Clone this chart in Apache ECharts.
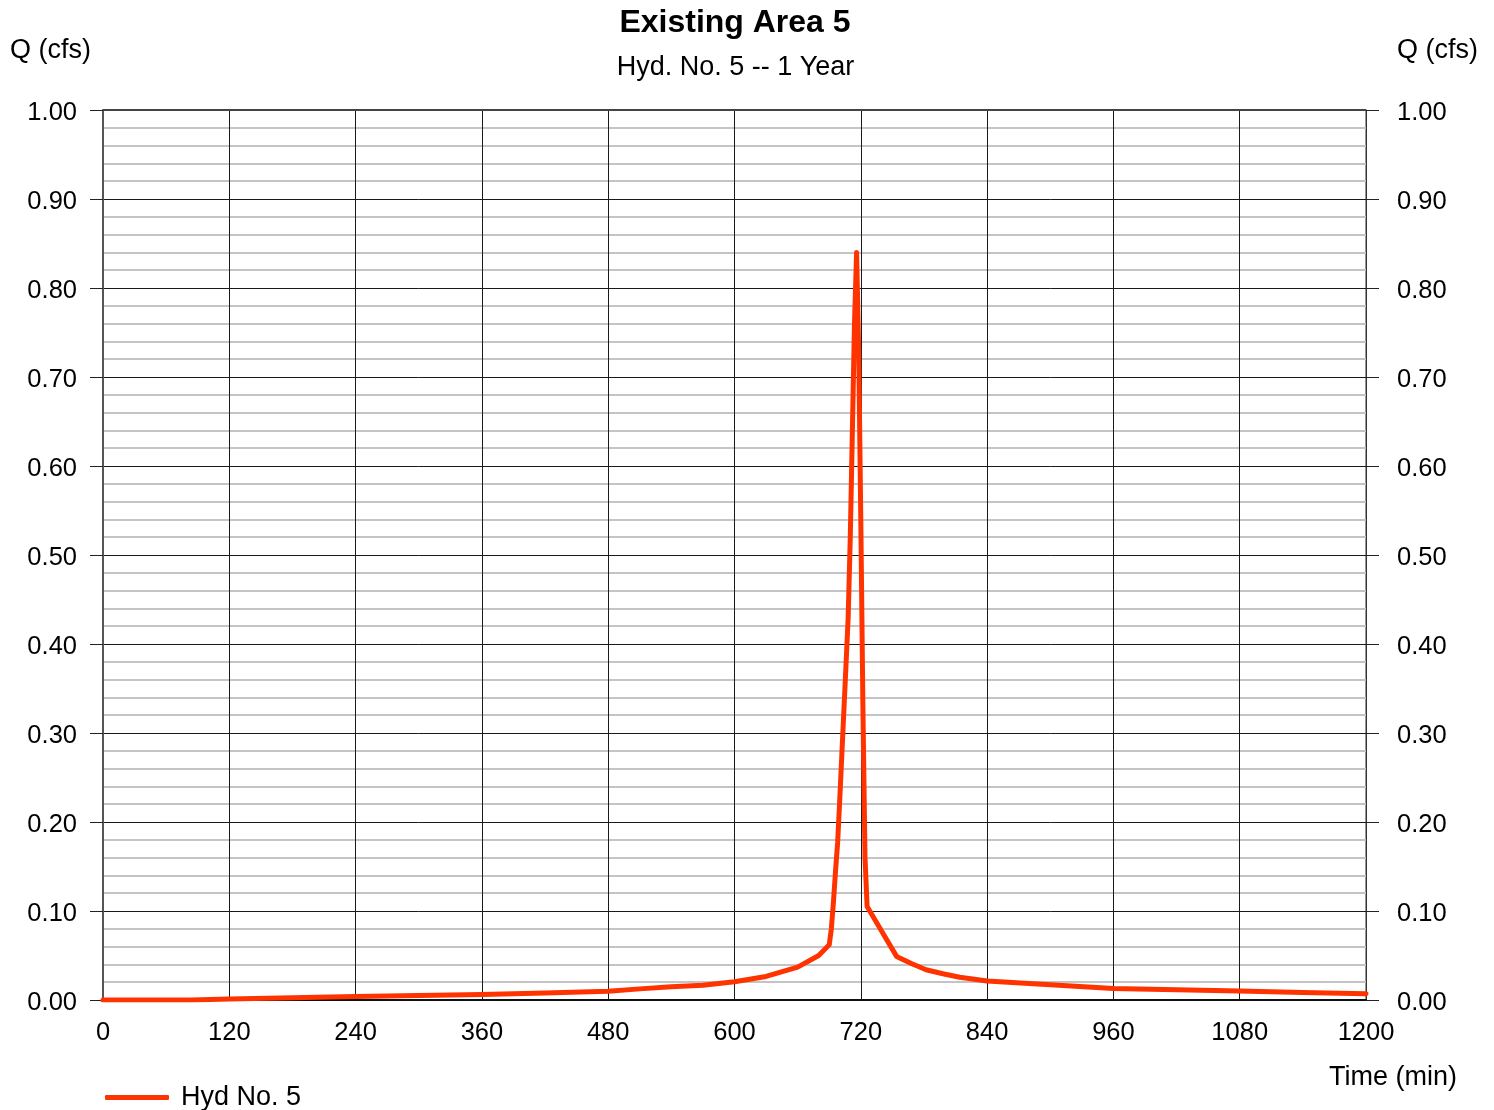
<!DOCTYPE html>
<html>
<head>
<meta charset="utf-8">
<script src="https://cdn.jsdelivr.net/npm/echarts@6/dist/echarts.min.js"></script>
<style>
html,body{margin:0;padding:0;background:#fff;}
#chart{width:1494px;height:1110px;}
</style>
</head>
<body>
<div id="chart"></div>
<script>
// ---- data ----
const chartTitle = "Existing Area 5";
const chartSubtitle = "Hyd. No. 5 -- 1 Year";
const seriesName = "Hyd No. 5";
const yAxisName = "Q (cfs)";
const xAxisName = "Time (min)";

const timeMin = [0, 30, 60, 84, 120, 180, 240, 300, 360, 420, 480, 510, 540, 570, 600, 630, 660, 680, 690,
  692, 694, 696, 698, 700, 702, 704, 706, 708, 710, 712, 714, 716, 717, 718, 720, 722, 724, 726,
  740, 754, 768, 782, 798, 814, 840, 900, 960, 1020, 1080, 1140, 1200];
const flowCfs = [0, 0, 0, 0, 0.0012, 0.0025, 0.0038, 0.005, 0.0062, 0.008, 0.0098, 0.0125, 0.015, 0.0165, 0.0205, 0.0265, 0.037, 0.05, 0.062,
  0.08, 0.11, 0.145, 0.177, 0.225, 0.276, 0.327, 0.378, 0.43, 0.52, 0.64, 0.76, 0.84, 0.84, 0.73, 0.54, 0.33, 0.16, 0.105,
  0.077, 0.049, 0.041, 0.034, 0.0295, 0.0255, 0.0213, 0.017, 0.013, 0.0115, 0.010, 0.0085, 0.007];

const xMin = 0, xMax = 1200, xStep = 120;
const yMin = 0, yMax = 1, yStep = 0.1;

// ---- chart ----
const FONT = "'Liberation Sans', Arial, Helvetica, sans-serif";
const chart = echarts.init(document.getElementById('chart'), null, {renderer: 'canvas'});
const gridLeft = 103, gridRight = 128, gridTop = 110, gridBottom = 110;

const yAxisCommon = {
  type: 'value', min: yMin, max: yMax, interval: yStep,
  axisLine: {show: true, lineStyle: {color: '#555', width: 2}},
  axisTick: {show: true, inside: false, length: 13, lineStyle: {color: '#222', width: 1}},
  axisLabel: {fontFamily: FONT, fontSize: 25.5, color: '#000',
    formatter: v => '{n|' + v.toFixed(2) + '}',
    rich: {n: {fontFamily: FONT, fontSize: 25.5, color: '#000', padding: [5, 0, 0, 0]}}},
  splitLine: {show: true, lineStyle: {color: '#1a1a1a', width: 1}},
  minorTick: {show: false, splitNumber: 5},
  minorSplitLine: {show: true, lineStyle: {color: '#c4c4c4', width: 2}}
};

chart.setOption({
  animation: false,
  backgroundColor: '#ffffff',
  title: [
    {text: chartTitle, left: 730, top: 2, textAlign: 'center',
     textStyle: {fontFamily: FONT, fontSize: 32, fontWeight: 'bold', color: '#000'}},
    {text: chartSubtitle, left: 730.5, top: 49, textAlign: 'center',
     textStyle: {fontFamily: FONT, fontSize: 27, fontWeight: 'normal', color: '#000'}}
  ],
  legend: {
    left: 100, top: 1079, itemWidth: 64, itemHeight: 5, icon: 'roundRect',
    textStyle: {fontFamily: FONT, fontSize: 27, color: '#000', padding: [0, 0, 0, 7]},
    data: [seriesName]
  },
  grid: {left: gridLeft, right: gridRight, top: gridTop, bottom: gridBottom, containLabel: false,
         show: true, borderColor: '#333', borderWidth: 1},
  xAxis: {
    type: 'value', min: xMin, max: xMax, interval: xStep,
    axisLine: {show: true, lineStyle: {color: '#111', width: 2}},
    axisTick: {show: false},
    axisLabel: {fontFamily: FONT, fontSize: 25.5, color: '#000', margin: 20, formatter: v => String(v)},
    splitLine: {show: true, lineStyle: {color: '#1a1a1a', width: 1}}
  },
  yAxis: [
    Object.assign({}, yAxisCommon, {position: 'left', axisLabel: Object.assign({}, yAxisCommon.axisLabel, {margin: 26})}),
    Object.assign({}, yAxisCommon, {position: 'right', splitLine: {show: false}, minorSplitLine: {show: false},
      axisLine: {show: true, lineStyle: {color: '#333', width: 1}},
      axisLabel: Object.assign({}, yAxisCommon.axisLabel, {margin: 31})})
  ],
  graphic: [
    {type: 'text', left: 10, top: 37, style: {text: yAxisName, font: '27px ' + FONT, fill: '#000'}},
    {type: 'text', left: 1397, top: 37, style: {text: yAxisName, font: '27px ' + FONT, fill: '#000'}},
    {type: 'text', left: 1329, top: 1064, style: {text: xAxisName, font: '27px ' + FONT, fill: '#000'}},
    {type: 'line', shape: {x1: gridLeft, y1: gridTop, x2: 1494 - gridRight, y2: gridTop},
     style: {stroke: '#444', lineWidth: 2}, z: 10}
  ],
  series: [{
    name: seriesName,
    type: 'line',
    yAxisIndex: 0,
    data: timeMin.map((t, i) => [t, flowCfs[i]]),
    showSymbol: false,
    symbol: 'none',
    smooth: false,
    color: '#ff3300',
    lineStyle: {color: '#ff3300', width: 5, cap: 'round', join: 'round'},
    z: 5
  }]
});
</script>
</body>
</html>
